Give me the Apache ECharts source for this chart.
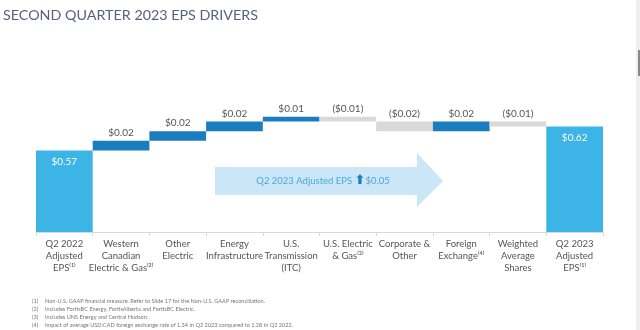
<!DOCTYPE html>
<html>
<head>
<meta charset="utf-8">
<script src="https://cdn.jsdelivr.net/npm/echarts@6/dist/echarts.min.js"></script>
<style>html,body{margin:0;padding:0;background:#fff}#c{width:640px;height:330px}</style>
</head>
<body>
<div id="c"></div>
<script>
var categories = ['Q2 2022\nAdjusted\nEPS⁽¹⁾', 'Western\nCanadian\nElectric & Gas⁽²⁾', 'Other\nElectric', 'Energy\nInfrastructure', 'U.S.\nTransmission\n(ITC)', 'U.S. Electric\n& Gas⁽³⁾', 'Corporate &\nOther', 'Foreign\nExchange⁽⁴⁾', 'Weighted\nAverage\nShares', 'Q2 2023\nAdjusted\nEPS⁽¹⁾'];
var changes = [0.57, 0.02, 0.02, 0.02, 0.01, -0.01, -0.02, 0.02, -0.01, 0.62];
var isTotal = [true, false, false, false, false, false, false, false, false, true];
var valueLabels = ['$0.57', '$0.02', '$0.02', '$0.02', '$0.01', '($0.01)', '($0.02)', '$0.02', '($0.01)', '$0.62'];
var footnotes = [
  ['(1)', 'Non-U.S. GAAP financial measure. Refer to Slide 17 for the Non-U.S. GAAP reconciliation.'],
  ['(2)', 'Includes FortisBC Energy, FortisAlberta and FortisBC Electric.'],
  ['(3)', 'Includes UNS Energy and Central Hudson.'],
  ['(4)', 'Impact of average USD:CAD foreign exchange rate of 1.34 in Q2 2023 compared to 1.28 in Q2 2022.']
];

var C_TOTAL = '#3cb4e6', C_UP = '#1a7dc0', C_DOWN = '#d9d9d9';
var base = [], vis = [], run = 0;
for (var i = 0; i < changes.length; i++) {
  var c = changes[i];
  if (isTotal[i]) {
    base.push(0);
    vis.push({value: c, itemStyle: {color: C_TOTAL},
      label: {position: 'insideTop', color: '#ffffff', distance: 6}});
    run = c;
  } else {
    var lo = Math.min(run, run + c);
    base.push(+lo.toFixed(4));
    vis.push({value: Math.abs(c), itemStyle: {color: c >= 0 ? C_UP : C_DOWN}});
    run = +(run + c).toFixed(4);
  }
}

var FONT = 'Lato';
var chart = echarts.init(document.getElementById('c'), null, {renderer: 'canvas'});
var graphics = [
  {type: 'rect', shape: {x: 636, y: 0, width: 4, height: 330}, style: {fill: '#eeeeee'}},
  {type: 'rect', shape: {x: 638, y: 50, width: 2, height: 26}, style: {fill: '#888888'}},
  {type: 'polygon', shape: {points: [[215, 167], [417, 167], [417, 153], [443, 181], [417, 207], [417, 195], [215, 195]]},
    style: {fill: '#cbe6f7'}},
  {type: 'text', x: 323, y: 181,
    style: {text: '{a|Q2 2023 Adjusted EPS }{b|⬆}{a|$0.05}', align: 'center', verticalAlign: 'middle',
      rich: {a: {fontFamily: FONT, fontSize: 9.5, fill: '#4aa9e0', color: '#4aa9e0'},
             b: {fontFamily: 'DejaVu Sans', fontSize: 13, fill: '#1a7dc0', color: '#1a7dc0', fontWeight: 'bold'}}}}
];
for (var k = 0; k < footnotes.length; k++) {
  graphics.push({type: 'text', x: 32, y: 301 + k * 8.2, style: {text: footnotes[k][0], fontFamily: FONT, fontSize: 5.6, fill: '#777', verticalAlign: 'middle'}});
  graphics.push({type: 'text', x: 45, y: 301 + k * 8.2, style: {text: footnotes[k][1], fontFamily: FONT, fontSize: 5.6, fill: '#777', verticalAlign: 'middle'}});
}

chart.setOption({
  animation: false,
  backgroundColor: '#ffffff',
  title: {text: 'SECOND QUARTER 2023 EPS DRIVERS', left: -2, top: 3,
    textStyle: {fontFamily: FONT, fontSize: 14.3, fontWeight: 'normal', color: '#56617a'}},
  grid: {left: 36, right: 37, top: 88, bottom: 98},
  xAxis: {type: 'category', data: categories,
    axisLine: {lineStyle: {color: '#d9d9d9'}},
    axisTick: {show: true, length: 4, lineStyle: {color: '#d9d9d9'}},
    axisLabel: {interval: 0, margin: 6, fontFamily: FONT, fontSize: 9.5, lineHeight: 12, color: '#555555'}},
  yAxis: {type: 'value', min: 0.4, max: 0.7, show: false, splitLine: {show: false}},
  series: [
    {type: 'bar', stack: 'w', data: base, itemStyle: {color: 'transparent'}, barCategoryGap: '0%', silent: true},
    {type: 'bar', stack: 'w', data: vis, barCategoryGap: '0%',
      label: {show: true, position: 'top', distance: 3, fontFamily: FONT, fontSize: 10, color: '#555555',
        formatter: function (p) { return valueLabels[p.dataIndex]; }}}
  ],
  graphic: graphics
});
</script>
</body>
</html>
